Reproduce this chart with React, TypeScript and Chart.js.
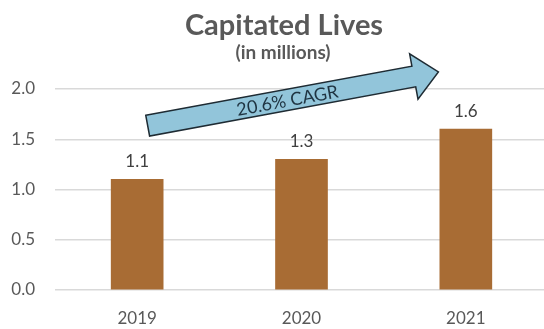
import React, { useEffect, useRef } from "react";
import { Chart, registerables } from "chart.js";

Chart.register(...registerables);

const categories = ["2019", "2020", "2021"];
const lives = [1.1, 1.3, 1.6];
const yTicks = [0, 0.5, 1.0, 1.5, 2.0];
const titleText = "Capitated Lives";
const subtitleText = "(in millions)";
const cagrText = "20.6% CAGR";
// arrow annotation in data space: [category index, value]
const arrowFrom = [0.064, 1.635];
const arrowTo = [1.833, 2.17];

const FONT = "Lato, 'Open Sans', sans-serif";

const overlayPlugin = {
  id: "overlay",
  afterDatasetsDraw(chart: any) {
    const ctx = chart.ctx;
    const xs = chart.scales.x;
    const ys = chart.scales.y;
    // titles
    ctx.save();
    ctx.fillStyle = "#595959";
    ctx.textAlign = "center";
    ctx.textBaseline = "middle";
    ctx.font = `bold 29px ${FONT}`;
    ctx.fillText(titleText, 284, 26);
    ctx.font = `bold 19px ${FONT}`;
    ctx.fillText(subtitleText, 283, 53);
    ctx.restore();

    // data labels
    const meta = chart.getDatasetMeta(0);
    ctx.save();
    ctx.fillStyle = "#404040";
    ctx.font = `17px ${FONT}`;
    ctx.textAlign = "center";
    ctx.textBaseline = "middle";
    meta.data.forEach((bar: any, i: number) => {
      ctx.fillText(lives[i].toFixed(1), bar.x, bar.y - 18);
    });
    ctx.restore();

    // arrow
    const x0 = xs.getPixelForValue(arrowFrom[0]);
    const y0 = ys.getPixelForValue(arrowFrom[1]);
    const x1 = xs.getPixelForValue(arrowTo[0]);
    const y1 = ys.getPixelForValue(arrowTo[1]);
    const len = Math.hypot(x1 - x0, y1 - y0);
    const ang = Math.atan2(y1 - y0, x1 - x0);
    const sh = 10.5;
    const hh = 23;
    const hl = 25;
    ctx.save();
    ctx.translate(x0, y0);
    ctx.rotate(ang);
    ctx.beginPath();
    ctx.moveTo(0, -sh);
    ctx.lineTo(len - hl, -sh);
    ctx.lineTo(len - hl, -hh);
    ctx.lineTo(len, 0);
    ctx.lineTo(len - hl, hh);
    ctx.lineTo(len - hl, sh);
    ctx.lineTo(0, sh);
    ctx.closePath();
    ctx.fillStyle = "#92C5DA";
    ctx.fill();
    ctx.lineWidth = 1.5;
    ctx.strokeStyle = "#1E2B33";
    ctx.stroke();
    ctx.fillStyle = "#1F3442";
    ctx.font = `18px ${FONT}`;
    ctx.textAlign = "center";
    ctx.textBaseline = "middle";
    ctx.fillText(cagrText, len * 0.48, 1);
    ctx.restore();
  },
};

export default function App() {
  const ref = useRef<HTMLCanvasElement>(null);
  useEffect(() => {
    if (!ref.current) return;
    const chart = new Chart(ref.current, {
      type: "bar",
      data: {
        labels: categories,
        datasets: [
          {
            data: lives,
            backgroundColor: "#A86C34",
            barThickness: 52,
          },
        ],
      },
      options: {
        animation: false,
        responsive: false,
        layout: { padding: { top: 89, right: 4, bottom: 3, left: 0 } },
        plugins: {
          legend: { display: false },
          tooltip: { enabled: false },
          title: { display: false },
        },
        scales: {
          x: {
            afterFit: (s: any) => {
              s.height = 36;
            },
            grid: { display: false, drawTicks: false },
            border: { display: false },
            ticks: {
              color: "#595959",
              font: { family: FONT, size: 17 },
              padding: 18,
            },
          },
          y: {
            min: 0,
            max: 2,
            afterFit: (s: any) => {
              s.width = 55;
            },
            afterBuildTicks: (s: any) => {
              s.ticks = yTicks.map((v) => ({ value: v }));
            },
            grid: { color: "#D9D9D9", lineWidth: 1.5, drawTicks: false },
            border: { display: false },
            ticks: {
              color: "#595959",
              font: { family: FONT, size: 17 },
              padding: 20,
              callback: (v: any) => Number(v).toFixed(1),
            },
          },
        },
      },
      plugins: [overlayPlugin],
    });
    return () => chart.destroy();
  }, []);
  return (
    <div
      style={{
        position: "fixed",
        left: 0,
        top: 0,
        width: 544,
        height: 329,
        overflow: "hidden",
        background: "#fff",
      }}
    >
      <canvas ref={ref} width={552} height={329} style={{ width: 552, height: 329, display: "block" }} />
    </div>
  );
}
